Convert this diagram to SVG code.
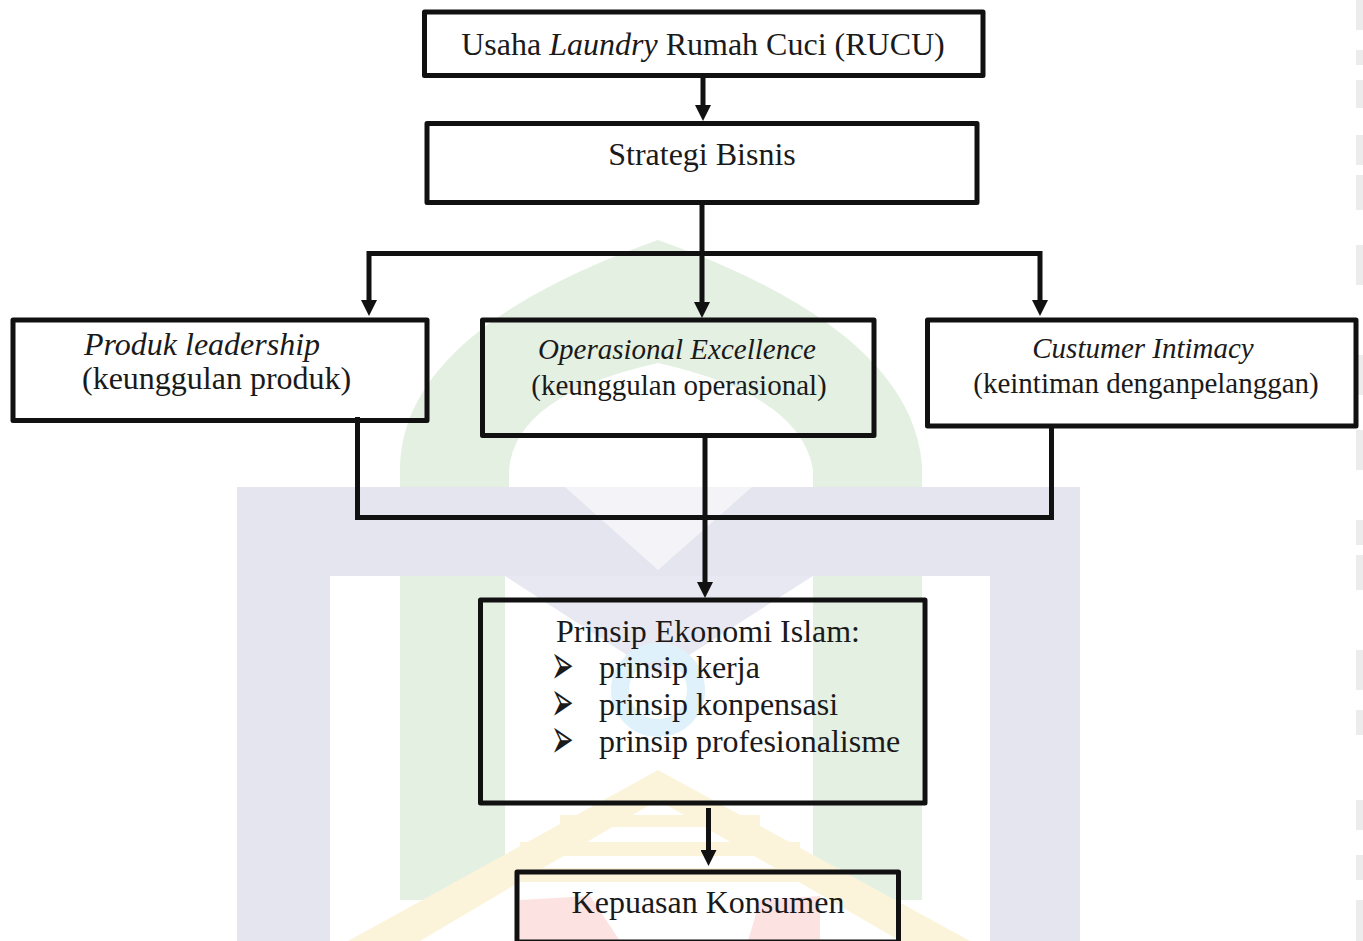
<svg xmlns="http://www.w3.org/2000/svg" width="1363" height="941" viewBox="0 0 1363 941">
<style>
.box{fill:none;stroke:#111;stroke-width:5;stroke-linejoin:round}
.t{font-family:"Liberation Serif","Times New Roman",serif;font-size:32px;fill:#1a1a1a}
.s{font-size:29px}
.i{font-style:italic}
.m{text-anchor:middle}
.b{font-family:"DejaVu Sans",sans-serif;font-size:27px;fill:#1a1a1a}
.c{fill:none;stroke:#111;stroke-width:5}
.mark{fill:#ececec}
</style>
<defs>
<marker id="ah" viewBox="0 0 16 16" refX="0" refY="8" markerWidth="16" markerHeight="16" markerUnits="userSpaceOnUse" orient="auto">
<path d="M0,0 L16,8 L0,16 Z" fill="#111"/>
</marker>
</defs>
<rect width="1363" height="941" fill="#fff"/>
<g id="watermark">
<path d="M400,487 V465 Q405,330 658,240 Q911,330 922,465 V487 Z" fill="#e4f0e2"/>
<path d="M509,487 V470 Q515,395 658,363 Q801,395 813,470 V487 Z" fill="#fff"/>
<rect x="237" y="487" width="843" height="454" fill="#e5e5f0"/>
<path d="M330,576 H990 V941 H330 Z" fill="#fff"/>
<path d="M565,487 H752 L658,570 Z" fill="#f4f4f8"/>
<rect x="400" y="576" width="105" height="324" fill="#e4f0e2"/>
<rect x="813" y="576" width="109" height="324" fill="#e4f0e2"/>
<path d="M505,576 H813 L658,675 Z" fill="#e8e8f2"/>
<circle cx="658" cy="690" r="38" fill="none" stroke="#dff2fb" stroke-width="18"/>
<path d="M658,770 L348,941 H970 Z" fill="#fbf4da"/>
<path d="M658,800 L420,941 H900 Z" fill="#fff"/>
<rect x="560" y="815" width="200" height="12" fill="#fbf4da"/>
<rect x="520" y="842" width="280" height="14" fill="#fbf4da"/>
<rect x="480" y="868" width="360" height="14" fill="#fbf4da"/>
<path d="M520,900 L590,896 L620,941 H520 Z" fill="#fde2e2"/>
<path d="M748,941 L760,900 L820,896 L820,941 Z" fill="#fde2e2"/>
<rect class="mark" x="1356" y="0" width="7" height="30"/>
<rect class="mark" x="1356" y="50" width="7" height="15"/>
<rect class="mark" x="1356" y="80" width="7" height="28"/>
<rect class="mark" x="1356" y="135" width="7" height="30"/>
<rect class="mark" x="1356" y="175" width="7" height="35"/>
<rect class="mark" x="1356" y="245" width="7" height="40"/>
<rect class="mark" x="1356" y="355" width="7" height="40"/>
<rect class="mark" x="1356" y="430" width="7" height="40"/>
<rect class="mark" x="1356" y="520" width="7" height="25"/>
<rect class="mark" x="1356" y="555" width="7" height="35"/>
<rect class="mark" x="1356" y="650" width="7" height="40"/>
<rect class="mark" x="1356" y="710" width="7" height="25"/>
<rect class="mark" x="1356" y="800" width="7" height="30"/>
<rect class="mark" x="1356" y="855" width="7" height="25"/>
<rect class="mark" x="1356" y="900" width="7" height="41"/>
</g>
<g id="connectors">
<path class="c" d="M703,76 V105" marker-end="url(#ah)"/>
<path class="c" d="M702,203 V302" marker-end="url(#ah)"/>
<path class="c" d="M702,253.5 H369 V300" marker-end="url(#ah)"/>
<path class="c" d="M702,253.5 H1040 V300" marker-end="url(#ah)"/>
<path class="c" d="M357.5,417 V517.5 H1051.5 V426"/>
<path class="c" d="M357.5,517.5 H1051.5" stroke-width="7"/>
<path class="c" d="M705,435 V582" marker-end="url(#ah)"/>
<path class="c" d="M708.5,808 V850" marker-end="url(#ah)"/>
</g>
<g id="n-rucu">
<rect class="box" x="424.5" y="12" width="558.5" height="63.5"/>
<text class="t m" x="703" y="55">Usaha <tspan class="i">Laundry</tspan> Rumah Cuci (RUCU)</text>
</g>
<g id="n-strategi">
<rect class="box" x="427" y="123.5" width="550" height="79"/>
<text class="t m" x="702" y="165">Strategi Bisnis</text>
</g>
<g id="n-produk">
<rect class="box" x="13" y="320" width="414" height="100.5"/>
<text class="t i" x="84" y="355">Produk leadership</text>
<text class="t" x="82" y="389">(keunggulan produk)</text>
</g>
<g id="n-operasional">
<rect class="box" x="482.5" y="320" width="391.5" height="115.5"/>
<text class="t s i m" x="677" y="359">Operasional Excellence</text>
<text class="t s m" x="679" y="395">(keunggulan operasional)</text>
</g>
<g id="n-custumer">
<rect class="box" x="927.5" y="320" width="428.5" height="106"/>
<text class="t s i m" x="1143" y="358">Custumer Intimacy</text>
<text class="t s m" x="1146" y="393">(keintiman denganpelanggan)</text>
</g>
<g id="n-prinsip">
<rect class="box" x="480.5" y="600" width="444.5" height="203"/>
<text class="t" x="556" y="642">Prinsip Ekonomi Islam:</text>
<text class="b" transform="translate(551,684) scale(1,2.1)">➢</text>
<text class="t" x="599" y="678">prinsip kerja</text>
<text class="b" transform="translate(551,721) scale(1,2.1)">➢</text>
<text class="t" x="599" y="715">prinsip konpensasi</text>
<text class="b" transform="translate(551,758) scale(1,2.1)">➢</text>
<text class="t" x="599" y="752">prinsip profesionalisme</text>
</g>
<g id="n-kepuasan">
<rect class="box" x="517" y="872" width="381.5" height="70"/>
<text class="t m" x="708" y="913">Kepuasan Konsumen</text>
</g>
</svg>
